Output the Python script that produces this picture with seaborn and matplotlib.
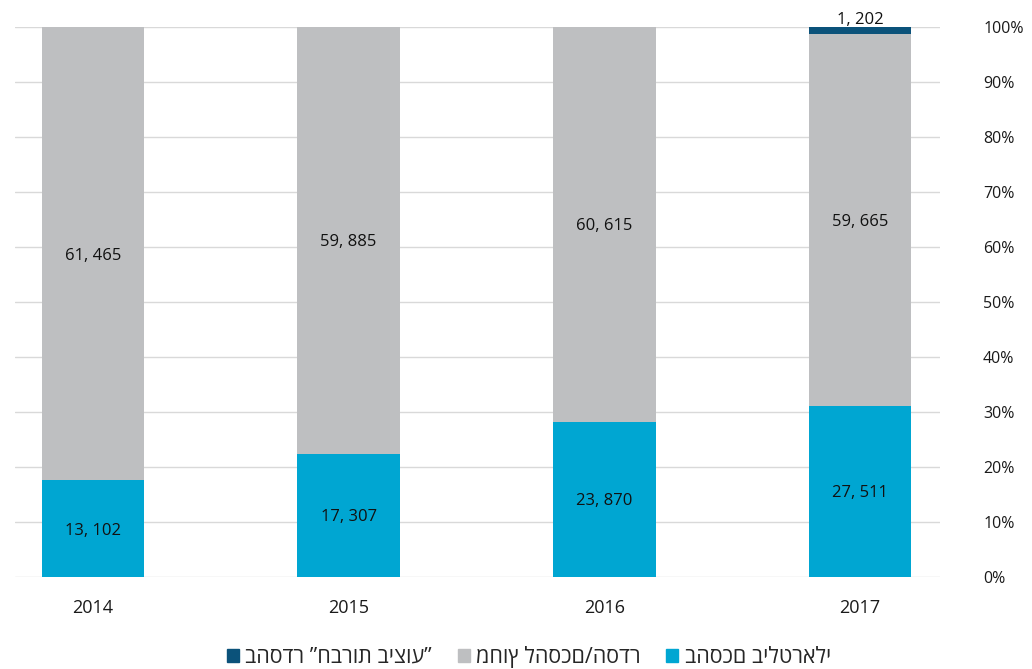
import matplotlib
matplotlib.use("Agg")
import matplotlib.pyplot as plt
import seaborn as sns
import pandas as pd
from matplotlib.patches import Patch
from matplotlib.ticker import PercentFormatter

years = ["2014", "2015", "2016", "2017"]
bilateral = [13102, 17307, 23870, 27511]
outside = [61465, 59885, 60615, 59665]
execution = [0, 0, 0, 1202]
legend_labels = ["בהסכם בילטראלי", "מחוץ להסכם/הסדר", "בהסדר ”חברות ביצוע”"]

c_blue = "#00A6D2"
c_gray = "#BEBFC1"
c_dark = "#0B527A"

sns.set_theme(style="white")
plt.rcParams["font.family"] = ["Open Sans", "DejaVu Sans"]

df = pd.DataFrame({"year": years, "b": bilateral, "o": outside, "e": execution})
df["tot"] = df["b"] + df["o"] + df["e"]
df["p_b"] = df["b"] / df["tot"] * 100
df["p_bo"] = (df["b"] + df["o"]) / df["tot"] * 100
df["p_all"] = 100.0

fig = plt.figure(figsize=(10.32, 6.69), dpi=100)
ax = fig.add_axes([15 / 1032, 1 - 577 / 669, 925 / 1032, 550 / 669])

w = 0.4
sns.barplot(data=df, x="year", y="p_all", color=c_dark, width=w, ax=ax, saturation=1, zorder=3, linewidth=0)
sns.barplot(data=df, x="year", y="p_bo", color=c_gray, width=w, ax=ax, saturation=1, zorder=3, linewidth=0)
sns.barplot(data=df, x="year", y="p_b", color=c_blue, width=w, ax=ax, saturation=1, zorder=3, linewidth=0)

ax.set_xlim(-78 / 256, 3 + 80 / 256)
ax.set_ylim(0, 100)
ax.set_yticks(range(0, 101, 10))
ax.yaxis.set_major_formatter(PercentFormatter(decimals=0))
ax.yaxis.tick_right()
ax.tick_params(axis="y", length=0, pad=31, labelsize=11.5, labelcolor="#1a1a1a")
ax.tick_params(axis="x", length=0, pad=16, labelsize=13, labelcolor="#1a1a1a")
ax.set_xlabel("")
ax.set_ylabel("")
ax.grid(axis="y", color="#D9D9D9", linewidth=1, zorder=0)
ax.grid(axis="x", visible=False)
for s in ax.spines.values():
    s.set_visible(False)

def fmt(v):
    return f"{v:,}".replace(",", ", ")

for i, r in df.iterrows():
    ax.text(i, r["p_b"] / 2, fmt(r["b"]), ha="center", va="center_baseline", fontsize=12, color="#111111", zorder=5)
    ax.text(i, (r["p_b"] + r["p_bo"]) / 2, fmt(r["o"]), ha="center", va="center_baseline", fontsize=12, color="#111111", zorder=5)
    if r["e"] > 0:
        ax.text(i, 99.8, fmt(r["e"]), ha="center", va="bottom", fontsize=12, color="#111111", zorder=5)

handles = [Patch(color=c_dark), Patch(color=c_gray), Patch(color=c_blue)]
labels = [legend_labels[2], legend_labels[1], legend_labels[0]]
fig.legend(handles, labels, loc="center", bbox_to_anchor=(529 / 1032, 1 - 657 / 669), ncol=3,
           frameon=False, fontsize=15.5, handlelength=0.55, handleheight=0.55,
           handletextpad=0.3, columnspacing=1.2)

fig.savefig("out.png", dpi=100)
